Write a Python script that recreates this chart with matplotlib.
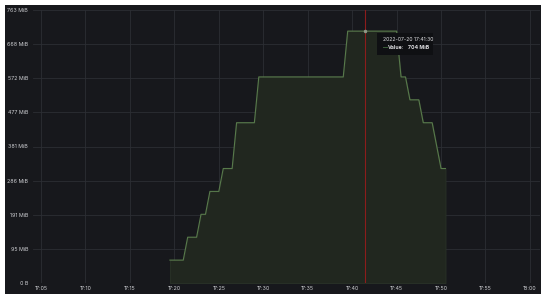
import datetime as dt
import matplotlib
matplotlib.use("Agg")
import matplotlib.pyplot as plt
from matplotlib.patches import Rectangle

plt.rcParams['font.family'] = ['Inter', 'DejaVu Sans']

# memory usage samples (time, MiB)
times = ["17:19:30", "17:21:00", "17:21:30", "17:22:30", "17:23:00", "17:23:30",
         "17:24:00", "17:25:00", "17:25:30", "17:26:30", "17:27:00", "17:29:00",
         "17:29:30", "17:39:00", "17:39:30", "17:45:00", "17:45:30", "17:46:00",
         "17:46:30", "17:47:30", "17:48:00", "17:49:00", "17:50:00", "17:50:30"]
values = [64, 64, 128, 128, 192, 192,
          256, 256, 320, 320, 448, 448,
          576, 576, 704, 704, 576, 576,
          512, 512, 448, 448, 320, 320]

y_ticks = [0, 95.4, 190.75, 286.1, 381.5, 476.9, 572.25, 667.6, 763]
y_labels = ["0 B", "95 MiB", "191 MiB", "286 MiB", "381 MiB", "477 MiB",
            "572 MiB", "668 MiB", "763 MiB"]
x_ticks = ["17:05", "17:10", "17:15", "17:20", "17:25", "17:30",
           "17:35", "17:40", "17:45", "17:50", "17:55", "18:00"]

hover_time = "17:41:30"
hover_value = 704

day = dt.date(2022, 7, 20)
def to_dt(s):
    parts = [int(p) for p in s.split(":")]
    while len(parts) < 3:
        parts.append(0)
    return dt.datetime.combine(day, dt.time(*parts))

t = [to_dt(s) for s in times]

bg = "#17181c"
grid_c = "#2c2e33"
text_c = "#cfd0d4"
line_c = "#587a4b"
fill_c = "#21271f"

fig = plt.figure(figsize=(5.5, 3.01), dpi=100, facecolor="white")
fig.patches.append(Rectangle((5 / 550, 1 - 294 / 301), 536 / 550, 289 / 301,
                             transform=fig.transFigure, facecolor=bg,
                             edgecolor="none", zorder=-10))
ax = fig.add_axes([33 / 550, 18 / 301, 507 / 550, 273 / 301])
ax.set_facecolor(bg)

ax.fill_between(t, values, 0, color=fill_c, linewidth=0.6, edgecolor="#2a3328", zorder=2)
ax.plot(t, values, color=line_c, linewidth=0.8, zorder=3)

ht = to_dt(hover_time)
ax.axvline(ht, color="#8c1c1c", linewidth=0.8, zorder=4)
ax.plot([ht], [hover_value], "o", color="#8f9787", markersize=1.5, zorder=5)

for s in ["top", "right", "bottom", "left"]:
    ax.spines[s].set_visible(False)

ax.set_ylim(0, 763)
ax.set_yticks(y_ticks)
ax.set_yticklabels(y_labels)
ax.set_xticks([to_dt(s) for s in x_ticks])
ax.set_xticklabels(x_ticks)
ax.set_xlim(to_dt("17:04:06"), to_dt("18:01:08"))
ax.tick_params(length=0, labelsize=3.8, colors=text_c)
ax.tick_params(axis="y", pad=3.5)
ax.tick_params(axis="x", pad=2.5)
ax.grid(True, color=grid_c, linewidth=0.6)
ax.set_axisbelow(True)

# tooltip
tip = Rectangle((377 / 550, 1 - 55 / 301), 56 / 550, 22 / 301,
                transform=fig.transFigure, facecolor="#0f1013",
                edgecolor="none", zorder=10)
fig.patches.append(tip)
fig.text(383 / 550, 1 - 39.5 / 301, "2022-07-20 " + hover_time, fontsize=3.7,
         color="#e0e0e3", va="center", ha="left", zorder=11)
fig.text(383 / 550, 1 - 48 / 301, "\u2014", fontsize=3.7, color="#73bf69",
         va="center", ha="left", zorder=11)
fig.text(387.5 / 550, 1 - 48 / 301, "Value:", fontsize=3.7, color="#e0e0e3",
         fontweight="bold", va="center", ha="left", zorder=11)
fig.text(408 / 550, 1 - 48 / 301, "%d MiB" % hover_value, fontsize=3.7,
         color="#e0e0e3", fontweight="bold", va="center", ha="left", zorder=11)

fig.savefig("out.png", dpi=100, facecolor="white")
